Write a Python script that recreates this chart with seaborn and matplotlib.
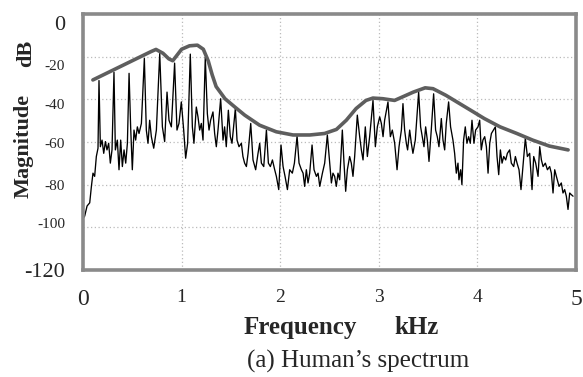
import matplotlib
matplotlib.use("Agg")
import matplotlib.pyplot as plt
import matplotlib.transforms as mtransforms
import seaborn as sns
import pandas as pd

# spectrum (kHz, dB)
freq_khz = [
    0.000, 0.017, 0.041, 0.068, 0.085, 0.101, 0.118, 0.135, 0.152, 0.162,
    0.176, 0.193, 0.210, 0.227, 0.243, 0.260, 0.277, 0.294, 0.314,
    0.328, 0.348, 0.365, 0.382, 0.399, 0.416, 0.433, 0.450, 0.467,
    0.483, 0.500, 0.517, 0.534, 0.551, 0.568, 0.592, 0.622,
    0.642, 0.659, 0.676, 0.693, 0.717, 0.744, 0.778, 0.805,
    0.828, 0.852, 0.872, 0.896, 0.929,
    0.953, 0.973, 0.997, 1.021, 1.041, 1.061, 1.088,
    1.109, 1.125, 1.149, 1.166, 1.183, 1.200, 1.217, 1.240,
    1.261, 1.278, 1.294, 1.318, 1.335, 1.352, 1.369, 1.396,
    1.420, 1.436, 1.453, 1.474, 1.494, 1.511, 1.545,
    1.562, 1.582, 1.606, 1.622, 1.639,
    1.657, 1.674, 1.701, 1.724, 1.751, 1.775, 1.792, 1.809, 1.833, 1.860,
    1.880, 1.900, 1.921, 1.944, 1.961, 1.985, 2.008,
    2.029, 2.049, 2.073, 2.096, 2.123, 2.144, 2.171,
    2.191, 2.215, 2.232, 2.248, 2.265, 2.282, 2.299, 2.323,
    2.343, 2.367, 2.384, 2.401, 2.428,
    2.451, 2.478, 2.502, 2.519, 2.535, 2.552, 2.569, 2.586, 2.603, 2.630,
    2.647, 2.664, 2.681, 2.704, 2.721, 2.738, 2.755, 2.782,
    2.806, 2.823, 2.840, 2.863, 2.884, 2.907, 2.941,
    2.965, 2.985, 3.009, 3.026, 3.043, 3.059, 3.093,
    3.117, 3.137, 3.161, 3.185, 3.205, 3.229, 3.245,
    3.262, 3.279, 3.292, 3.313, 3.330, 3.346, 3.370, 3.404,
    3.424, 3.441, 3.458, 3.475, 3.492, 3.509, 3.532, 3.556,
    3.576, 3.593, 3.610, 3.634, 3.651, 3.668, 3.684, 3.708,
    3.728, 3.752, 3.769, 3.786, 3.803, 3.813, 3.830, 3.843, 3.860, 3.877,
    3.894, 3.911, 3.928, 3.945, 3.965, 3.982, 4.006, 4.023, 4.039, 4.056,
    4.074, 4.091, 4.108, 4.125, 4.142, 4.182,
    4.199, 4.216, 4.233, 4.250, 4.267, 4.287, 4.304, 4.327, 4.344, 4.368,
    4.385, 4.402, 4.422, 4.442, 4.486,
    4.507, 4.530, 4.554, 4.571, 4.591, 4.615, 4.632, 4.649, 4.666, 4.689,
    4.710, 4.733, 4.750, 4.767, 4.784, 4.801, 4.828, 4.851, 4.868, 4.885,
    4.902, 4.919, 4.936, 4.953, 4.970,
]
mag_db = [
    -96.0, -94.7, -90.0, -88.5, -80.8, -74.6, -76.1, -66.8, -62.9, -31.2,
    -62.2, -59.1, -65.3, -59.8, -63.7, -60.6, -69.9, -63.7, -27.3,
    -63.7, -59.1, -73.0, -59.1, -71.5, -63.7, -69.9, -60.6, -27.8,
    -52.9, -73.0, -54.4, -59.1, -52.9, -56.0, -51.3, -20.8,
    -54.4, -60.6, -49.8, -57.5, -62.9, -54.4, -18.5, -52.9,
    -59.8, -36.6, -49.8, -52.9, -23.0,
    -54.4, -51.3, -41.2, -54.4, -67.6, -60.6, -18.8,
    -52.9, -60.6, -43.6, -48.2, -54.4, -51.3, -59.1, -20.3,
    -46.7, -54.4, -49.8, -45.9, -56.0, -62.2, -54.4, -39.7,
    -59.1, -52.9, -62.2, -45.1, -57.5, -60.6, -44.3,
    -59.1, -62.2, -60.6, -66.8, -69.9,
    -71.5, -65.3, -51.3, -68.4, -73.0, -65.3, -60.6, -69.9, -71.5, -54.4,
    -69.9, -71.5, -68.4, -73.0, -76.1, -82.3, -61.4,
    -71.5, -76.1, -82.3, -73.0, -74.6, -69.9, -57.2,
    -69.9, -73.0, -74.6, -80.8, -73.0, -79.2, -74.6, -61.4,
    -73.0, -76.1, -74.6, -80.8, -74.6,
    -69.9, -56.7, -69.9, -79.2, -74.6, -76.1, -80.8, -74.6, -77.7, -54.4,
    -69.9, -83.1, -73.0, -66.8, -69.9, -76.1, -66.8, -47.4,
    -57.5, -63.7, -68.4, -52.9, -66.8, -57.5, -40.5,
    -62.2, -52.9, -48.2, -51.3, -57.5, -49.8, -41.2,
    -57.5, -54.4, -60.6, -73.0, -62.2, -54.4, -42.0,
    -54.4, -60.6, -63.7, -54.4, -60.6, -65.3, -59.1, -36.6,
    -52.9, -57.5, -62.2, -52.9, -59.1, -69.1, -54.4, -37.4,
    -54.4, -57.5, -62.2, -49.0, -59.1, -63.7, -51.3, -41.2,
    -52.9, -59.1, -65.3, -74.6, -69.9, -77.7, -73.0, -80.0, -59.1, -52.9,
    -60.6, -57.5, -60.6, -49.8, -60.6, -54.4, -52.9, -49.8, -63.7, -59.1,
    -57.5, -62.2, -74.6, -60.6, -56.0, -52.9,
    -66.8, -75.3, -63.7, -69.9, -66.8, -68.4, -65.3, -63.7, -69.9, -71.5,
    -66.8, -69.9, -73.0, -82.3, -58.3,
    -66.8, -65.3, -82.3, -66.8, -69.9, -76.1, -62.2, -68.4, -71.5, -69.9,
    -73.0, -71.5, -74.6, -83.9, -73.0, -76.1, -80.8, -79.2, -83.9, -82.3,
    -85.4, -91.6, -83.9, -84.7, -85.4,
]

# spectral envelope (kHz, dB)
env_khz = [0.10, 0.69, 0.74, 0.811, 0.87, 0.91, 0.95, 1.00, 1.08, 1.16,
           1.22, 1.27, 1.31, 1.35, 1.44, 1.54, 1.64, 1.79, 1.96, 2.13,
           2.30, 2.45, 2.57, 2.67, 2.77, 2.87, 2.94, 3.04, 3.16, 3.35,
           3.47, 3.55, 3.68, 3.82, 3.96, 4.07, 4.23, 4.40, 4.56, 4.73, 4.92]
env_db = [-30.9, -17.6, -16.6, -18.4, -21.0, -21.9, -19.5, -16.5, -14.9, -14.6,
          -16.5, -22.0, -28.5, -34.0, -39.7, -43.6, -47.4, -52.1, -55.2, -56.7,
          -56.7, -56.0, -54.1, -49.8, -44.3, -40.5, -39.4, -39.7, -40.5, -36.6,
          -34.6, -35.0, -38.1, -42.0, -45.9, -49.0, -52.9, -56.0, -59.1, -61.9, -63.7]

x_ticks = [0, 1, 2, 3, 4, 5]
y_ticks = [0, -20, -40, -60, -80, -100, -120]

sns.set_style("white")
plt.rcParams["font.family"] = ["Liberation Serif", "DejaVu Serif"]

fig = plt.figure(figsize=(5.83, 3.77), dpi=100)
ax = fig.add_axes([0.1424, 0.2838, 0.8456, 0.679])

spec = pd.DataFrame({"freq": freq_khz, "mag": mag_db})
env = pd.DataFrame({"freq": env_khz, "mag": env_db})
sns.lineplot(data=spec, x="freq", y="mag", ax=ax, color="black",
             linewidth=0.95, estimator=None, sort=False)
sns.lineplot(data=env, x="freq", y="mag", ax=ax, color="#5e5e5e",
             linewidth=2.6, estimator=None, sort=False)

ax.set_xlim(0, 5)
ax.set_ylim(-120, 0)
ax.set_xlabel("")
ax.set_ylabel("")
ax.set_xticks(x_ticks)
ax.set_xticklabels([str(t) for t in x_ticks])
ax.set_yticks(y_ticks)
ax.set_yticklabels([str(t) for t in y_ticks])
ax.grid(True, which="major", linestyle=(0, (1, 2)), color="#bbbbbb", linewidth=0.9)

# short black marks drawn as minor ticks
ax.set_xticks([1, 2, 3, 4], minor=True)
ax.set_yticks([0, -100], minor=True)
ax.tick_params(which="major", length=0, bottom=True, left=True)
ax.tick_params(axis="x", which="major", pad=14, labelsize=14)
ax.tick_params(axis="y", which="major", pad=13, labelsize=11)
ax.tick_params(which="minor", direction="in", length=7, width=2.4,
               color="black", bottom=True, left=True)

for lab in ax.get_xticklabels():
    if lab.get_text() in ("0", "5"):
        lab.set_fontsize(17)

# the y labels in the original sit a little off their gridlines
y_label_shift_px = [9, 8, 5, 1, 0, -4, 0]
for lab, shift in zip(ax.get_yticklabels(), y_label_shift_px):
    if lab.get_text() in ("0", "-120"):
        lab.set_fontsize(16)
    off = mtransforms.ScaledTranslation(0, -shift / 100, fig.dpi_scale_trans)
    lab.set_transform(lab.get_transform() + off)

for s in ax.spines.values():
    s.set_color("#8a8a8a")
    s.set_linewidth(2.6)

fig.text(0.040, 0.613, "Magnitude", rotation=90, ha="center", va="center",
         fontsize=16, fontweight="bold")
fig.text(0.044, 0.859, "dB", rotation=90, ha="center", va="center",
         fontsize=16, fontweight="bold")
fig.text(0.5146, 0.1326, "Frequency", ha="center", va="center",
         fontsize=18, fontweight="bold")
fig.text(0.715, 0.130, "kHz", ha="center", va="center",
         fontsize=18, fontweight="bold")
fig.text(0.614, 0.040, "(a) Human\u2019s spectrum", ha="center", va="center",
         fontsize=18)

fig.savefig("out.png", dpi=100)
